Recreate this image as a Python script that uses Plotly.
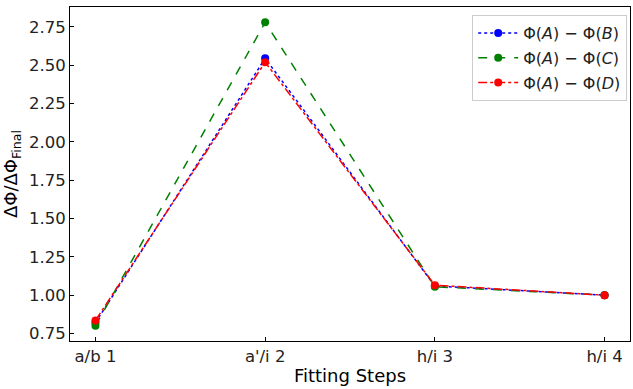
import plotly.graph_objects as go

# Data
steps = ['a/b 1', "a'/i 2", 'h/i 3', 'h/i 4']
phi_ab = [0.82, 2.545, 1.060, 1.0]
phi_ac = [0.80, 2.780, 1.055, 1.0]
phi_ad = [0.835, 2.520, 1.065, 1.0]

x = list(range(len(steps)))

fig = go.Figure()
fig.add_trace(go.Scatter(x=x, y=phi_ab, mode='lines+markers',
                         name='Φ(<i>A</i>) − Φ(<i>B</i>)', legendgroup='b',
                         line=dict(color='blue', dash='dot', width=1.5),
                         marker=dict(color='blue', size=8)))
fig.add_trace(go.Scatter(x=x, y=phi_ac, mode='lines+markers',
                         name='Φ(<i>A</i>) − Φ(<i>C</i>)', legendgroup='c',
                         line=dict(color='green', dash='dash', width=1.5),
                         marker=dict(color='green', size=8)))
fig.add_trace(go.Scatter(x=x, y=phi_ad, mode='lines+markers',
                         name='Φ(<i>A</i>) − Φ(<i>D</i>)', legendgroup='d',
                         line=dict(color='red', dash='dashdot', width=1.5),
                         marker=dict(color='red', size=8)))

axis_style = dict(showline=True, linecolor='black', linewidth=1, mirror=True,
                  ticks='inside', ticklen=4, tickcolor='black', showgrid=False,
                  zeroline=False, tickfont=dict(size=16.5, color='#222'))

fig.update_layout(
    width=633, height=389,
    margin=dict(l=70, r=3, t=7, b=48),
    paper_bgcolor='white', plot_bgcolor='white',
    font=dict(family='DejaVu Sans', color='black'),
    xaxis=dict(axis_style, range=[-0.15, 3.15], tickvals=x, ticktext=steps,
               title=dict(text='Fitting Steps', font=dict(size=18), standoff=4)),
    yaxis=dict(axis_style, range=[0.701, 2.88],
               tickvals=[0.75, 1.0, 1.25, 1.5, 1.75, 2.0, 2.25, 2.5, 2.75],
               ticktext=['0.75', '1.00', '1.25', '1.50', '1.75', '2.00', '2.25', '2.50', '2.75'],
               title=dict(text='ΔΦ/ΔΦ<sub>Final</sub>', font=dict(size=18), standoff=6)),
    legend=dict(x=0.995, y=0.976, xanchor='right', yanchor='top',
                bordercolor='#ccc', borderwidth=1, bgcolor='rgba(255,255,255,0.8)',
                font=dict(size=16, color='#222'), itemwidth=40, tracegroupgap=1),
)

# drop the default page margin so the figure sits at the window's corner
fig.write_html("out.html", config={'displayModeBar': False},
               post_script="document.body.style.margin='0';")
